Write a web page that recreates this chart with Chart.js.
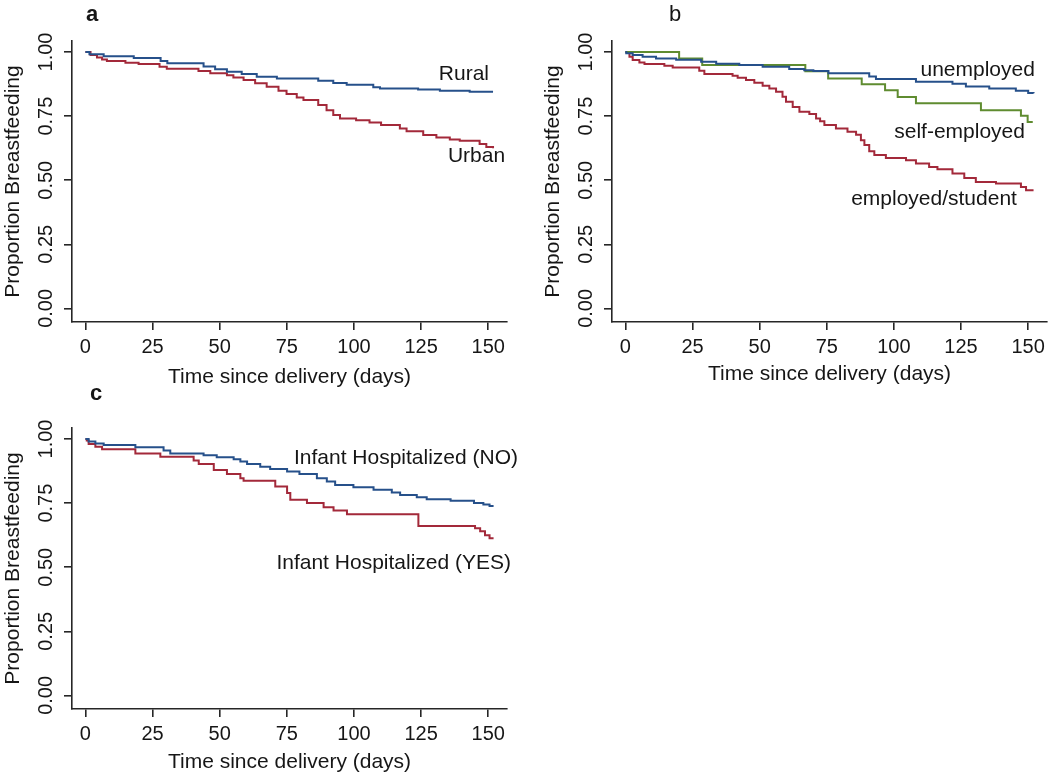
<!DOCTYPE html>
<html>
<head>
<meta charset="utf-8">
<script src="https://cdn.jsdelivr.net/npm/chart.js@4"></script>
<style>
  body { margin: 0; background: #fff; width: 1050px; height: 776px; position: relative; overflow: hidden; }
  canvas { position: absolute; }
  #panelA { left: 0; top: 0; }
  #panelB { left: 540px; top: 0; }
  #panelC { left: 0; top: 387px; }
</style>
</head>
<body>
<canvas id="panelA" width="525" height="390"></canvas>
<canvas id="panelB" width="510" height="390"></canvas>
<canvas id="panelC" width="525" height="389"></canvas>
<script>
// tick values
const dayTicks = [0, 25, 50, 75, 100, 125, 150];
const survTicks = [0, 0.25, 0.5, 0.75, 1];
const survTickLabels = ['0.00', '0.25', '0.50', '0.75', '1.00'];

// panel a: residence
const ruralDays = [0, 1.5, 6.8, 18, 28, 30.5, 44, 48.3, 52.7, 58.2, 63.8, 71.3, 86.7, 92.3, 97.3, 107.2, 109.7, 123.9, 132, 143.1, 151.8];
const ruralSurv = [1.0, 0.991, 0.984, 0.977, 0.965, 0.956, 0.944, 0.933, 0.923, 0.914, 0.904, 0.897, 0.888, 0.879, 0.872, 0.863, 0.858, 0.854, 0.849, 0.845, 0.845];
const urbanDays = [0, 1.9, 4.3, 6.2, 8, 14.9, 19.8, 27.6, 30.3, 42.1, 46.5, 52.7, 55.1, 58.9, 63.2, 67.5, 71.9, 74.9, 78.7, 81.2, 86.7, 89.8, 92.3, 94.8, 100.8, 105.8, 110.1, 117.1, 119.6, 125.8, 130.7, 135.7, 139.4, 146.8, 149.3, 151.8];
const urbanSurv = [1.0, 0.988, 0.979, 0.971, 0.965, 0.958, 0.953, 0.943, 0.935, 0.926, 0.917, 0.909, 0.901, 0.891, 0.878, 0.865, 0.849, 0.836, 0.823, 0.813, 0.793, 0.773, 0.754, 0.741, 0.734, 0.725, 0.715, 0.702, 0.691, 0.676, 0.667, 0.659, 0.654, 0.641, 0.630, 0.625];

// panel b: occupation
const unempDays = [0, 0.3, 2.7, 6.4, 11.4, 18.9, 28.2, 33.8, 42.4, 51.1, 61, 66.6, 70, 75.6, 90.8, 93.3, 108.2, 121.8, 126.8, 135.5, 145.4, 150, 152];
const unempSurv = [1.0, 0.995, 0.988, 0.982, 0.975, 0.970, 0.962, 0.954, 0.949, 0.943, 0.934, 0.929, 0.926, 0.917, 0.905, 0.895, 0.884, 0.876, 0.866, 0.858, 0.849, 0.840, 0.839];
const selfDays = [0, 20, 28.6, 67, 75.5, 88, 96.7, 101.4, 108.2, 132.4, 147.3, 149.8, 151.7];
const selfSurv = [1.0, 0.975, 0.949, 0.925, 0.897, 0.874, 0.851, 0.825, 0.800, 0.773, 0.751, 0.727, 0.727];
const empDays = [0, 1.5, 2.7, 5.2, 7.1, 14.5, 17.6, 27.5, 29.4, 39.9, 41.8, 44.9, 48, 51.1, 53.6, 56.1, 58.5, 59.8, 62.3, 64.8, 68.5, 71, 72.5, 74.1, 78.4, 82.7, 85.9, 87.7, 89, 90.8, 92.7, 97, 104.5, 108.2, 113.1, 116.2, 121.8, 126.2, 130.5, 138, 147.3, 149.2, 152];
const empSurv = [1.0, 0.982, 0.969, 0.959, 0.953, 0.946, 0.940, 0.927, 0.914, 0.907, 0.900, 0.891, 0.880, 0.868, 0.858, 0.845, 0.826, 0.806, 0.786, 0.767, 0.758, 0.741, 0.730, 0.715, 0.702, 0.689, 0.677, 0.656, 0.637, 0.613, 0.598, 0.587, 0.578, 0.565, 0.552, 0.543, 0.526, 0.509, 0.493, 0.487, 0.474, 0.461, 0.461];

// panel c: infant hospitalized
const noDays = [0, 1.2, 3.7, 6.8, 18.6, 29.1, 31.6, 44, 48.9, 55.2, 57.7, 60.2, 65.1, 68.8, 75.1, 79.7, 86.2, 89.9, 93, 99.8, 107.3, 114.1, 117.2, 123.4, 127.1, 136, 144.7, 148.2, 150.5, 152];
const noSurv = [1.0, 0.990, 0.983, 0.977, 0.968, 0.955, 0.944, 0.937, 0.929, 0.921, 0.912, 0.903, 0.892, 0.883, 0.873, 0.864, 0.847, 0.834, 0.821, 0.812, 0.802, 0.791, 0.782, 0.773, 0.765, 0.759, 0.750, 0.745, 0.739, 0.739];
const yesDays = [0, 0.5, 1.2, 3.7, 6.2, 18.6, 27.9, 40.3, 42.2, 47.8, 52.7, 57.7, 58.9, 70.7, 75.1, 76.3, 82.5, 88.7, 92.4, 97.4, 124, 145.1, 147, 148.8, 150.5, 152];
const yesSurv = [1.0, 0.994, 0.981, 0.970, 0.960, 0.944, 0.931, 0.916, 0.903, 0.879, 0.864, 0.847, 0.837, 0.815, 0.789, 0.763, 0.750, 0.734, 0.721, 0.707, 0.661, 0.652, 0.640, 0.625, 0.613, 0.613];

const FONT = "'Liberation Sans', Arial, sans-serif";
const TEXT = '#161616';
const AXIS = '#262626';
const BLUE = '#26508a';
const RED = '#a3293a';
const GREEN = '#5f8c30';

// text drawn on top: rotated y tick labels, curve labels, panel letter
const kmText = {
    id: 'kmText',
    afterDraw(chart, args, opts) {
        const ctx = chart.ctx;
        const xs = chart.scales.x, ys = chart.scales.y;
        ctx.save();
        ctx.fillStyle = TEXT;
        ctx.font = '20px ' + FONT;
        ctx.textAlign = 'center';
        ctx.textBaseline = 'middle';
        survTicks.forEach((v, i) => {
            ctx.save();
            ctx.translate(chart.chartArea.left - 26, ys.getPixelForValue(v));
            ctx.rotate(-Math.PI / 2);
            ctx.fillText(survTickLabels[i], 0, 0);
            ctx.restore();
        });
        ctx.font = '21px ' + FONT;
        ctx.textAlign = 'right';
        opts.curveLabels.forEach(l => {
            ctx.fillText(l.text, xs.getPixelForValue(l.day), ys.getPixelForValue(l.p));
        });
        ctx.font = opts.letterWeight + ' 22px ' + FONT;
        ctx.textAlign = 'left';
        ctx.textBaseline = 'alphabetic';
        ctx.fillText(opts.letter, opts.letterX, opts.letterY);
        ctx.restore();
    }
};

function curve(days, surv, color) {
    return {
        data: days.map((d, i) => ({x: d, y: surv[i]})),
        borderColor: color,
        borderWidth: 2,
        stepped: true,
        pointRadius: 0,
        fill: false
    };
}

function makePanel(id, datasets, panelOpts) {
    const canvas = document.getElementById(id);
    const axisLine = {display: true, drawOnChartArea: false, drawTicks: true, tickLength: 8, color: AXIS, lineWidth: 1.6};
    return new Chart(canvas.getContext('2d'), {
        type: 'line',
        data: {datasets: datasets},
        options: {
            responsive: false,
            animation: false,
            layout: {autoPadding: false, padding: {left: 0, top: 41, right: canvas.width - 507, bottom: 0}},
            plugins: {
                legend: {display: false},
                tooltip: {enabled: false},
                kmText: panelOpts
            },
            scales: {
                x: {
                    type: 'linear', min: -5, max: 157,
                    afterBuildTicks: s => { s.ticks = dayTicks.map(v => ({value: v})); },
                    afterFit: s => { s.height = canvas.height - 322; },
                    grid: axisLine,
                    border: {display: true, color: AXIS, width: 1.6},
                    ticks: {font: {family: FONT, size: 20}, color: TEXT, padding: 5, maxRotation: 0, autoSkip: false},
                    title: {display: true, text: 'Time since delivery (days)', font: {family: FONT, size: 21}, color: TEXT,
                            padding: {top: 0, bottom: panelOpts.xTitlePad}}
                },
                y: {
                    type: 'linear', min: -0.053, max: 1.043,
                    afterBuildTicks: s => { s.ticks = survTicks.map(v => ({value: v})); },
                    afterFit: s => { s.width = 72; },
                    grid: axisLine,
                    border: {display: true, color: AXIS, width: 1.6},
                    ticks: {display: false},
                    title: {display: true, text: 'Proportion Breastfeeding', font: {family: FONT, size: 21}, color: TEXT,
                            padding: {top: 1, bottom: 0}}
                }
            }
        },
        plugins: [kmText]
    });
}

makePanel('panelA', [
    curve(ruralDays, ruralSurv, BLUE),
    curve(urbanDays, urbanSurv, RED)
], {
    letter: 'a', letterWeight: 'bold', letterX: 86, letterY: 21, xTitlePad: 0,
    curveLabels: [
        {text: 'Rural', day: 150.3, p: 0.914},
        {text: 'Urban', day: 156.3, p: 0.594}
    ]
});

makePanel('panelB', [
    curve(unempDays, unempSurv, BLUE),
    curve(selfDays, selfSurv, GREEN),
    curve(empDays, empSurv, RED)
], {
    letter: 'b', letterWeight: 'normal', letterX: 129, letterY: 21, xTitlePad: 3,
    curveLabels: [
        {text: 'unemployed', day: 152.5, p: 0.930},
        {text: 'self-employed', day: 148.8, p: 0.688},
        {text: 'employed/student', day: 145.8, p: 0.427}
    ]
});

makePanel('panelC', [
    curve(noDays, noSurv, BLUE),
    curve(yesDays, yesSurv, RED)
], {
    letter: 'c', letterWeight: 'bold', letterX: 90, letterY: 13, xTitlePad: 1,
    curveLabels: [
        {text: 'Infant Hospitalized (NO)', day: 161.1, p: 0.926},
        {text: 'Infant Hospitalized (YES)', day: 158.5, p: 0.516}
    ]
});
</script>
</body>
</html>
